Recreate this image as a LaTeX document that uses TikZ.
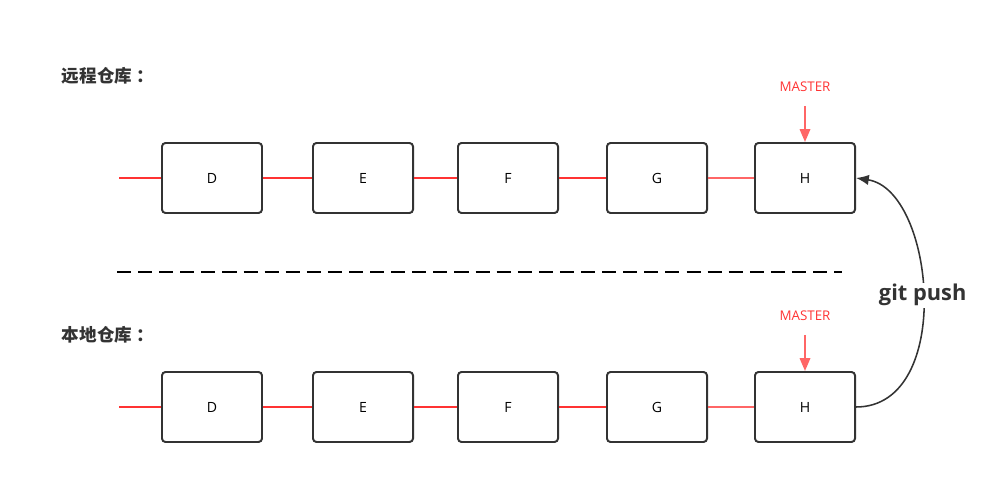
\documentclass[tikz,border=0pt]{standalone}
\usepackage{fontspec}
\setmainfont{Open Sans}
\newfontfamily\cjk{Noto Sans CJK SC}
\usetikzlibrary{arrows.meta}
\definecolor{linkred}{HTML}{FF3333}
\definecolor{linkpale}{HTML}{FF6666}
\definecolor{boxline}{HTML}{333333}

\begin{document}
\begin{tikzpicture}[x=0.025cm,y=-0.025cm,
  commit/.style={rectangle,draw=boxline,line width=1.4pt,rounded corners=2.5pt,minimum width=2.5cm,minimum height=1.75cm,inner sep=0pt,fill=white,font=\fontsize{10}{12}\selectfont},
  link/.style={line width=1.4pt,linkred},
  palelink/.style={line width=1.4pt,linkpale},
  master/.style={font=\fontsize{9.5}{11}\selectfont,text=linkred},
  pointer/.style={-{Triangle[length=3.2mm,width=2.6mm]},line width=1.4pt,linkpale},
  repo/.style={anchor=west,font=\cjk\bfseries\fontsize{12.5}{14}\selectfont,text=boxline},
  push/.style={-{Latex[length=3.2mm,width=2.6mm]},line width=1.1pt,boxline}
]
  \useasboundingbox (0,0) rectangle (1008,504);

  \node[repo] (remote) at (57,76) {远程仓库\hspace{0.25em}：};
  \node[repo] (local) at (57,335) {本地仓库\hspace{0.25em}：};

  \coordinate (rStart) at (119,178);
  \node[commit] (rD) at (212,178) {D};
  \node[commit] (rE) at (363,178) {E};
  \node[commit] (rF) at (508,178) {F};
  \node[commit] (rG) at (657,178) {G};
  \node[commit] (rH) at (805,178) {H};
  \draw[link] (rStart)--(rD); \draw[link] (rD)--(rE);
  \draw[link] (rE)--(rF); \draw[link] (rF)--(rG);
  \draw[palelink] (rG)--(rH);
  \node[master] (rMaster) at (805,87) {MASTER};
  \coordinate (rTip) at (805,106);
  \draw[pointer] (rTip)--(rH);

  \draw[dashed,line width=1.5pt,dash pattern=on 10 off 5,black] (117,272)--(842,272);

  \coordinate (lStart) at (119,407);
  \node[commit] (lD) at (212,407) {D};
  \node[commit] (lE) at (363,407) {E};
  \node[commit] (lF) at (508,407) {F};
  \node[commit] (lG) at (657,407) {G};
  \node[commit] (lH) at (805,407) {H};
  \draw[link] (lStart)--(lD); \draw[link] (lD)--(lE);
  \draw[link] (lE)--(lF); \draw[link] (lF)--(lG);
  \draw[palelink] (lG)--(lH);
  \node[master] (lMaster) at (805,316) {MASTER};
  \coordinate (lTip) at (805,335);
  \draw[pointer] (lTip)--(lH);

  \draw[push] (lH.east) .. controls (955,407) and (935,190) .. (rH.east)
    node[pos=0.505,fill=white,inner sep=1pt,font=\bfseries\fontsize{15.5}{17}\selectfont,text=boxline] (pushLabel) {git push};
\end{tikzpicture}
\end{document}
